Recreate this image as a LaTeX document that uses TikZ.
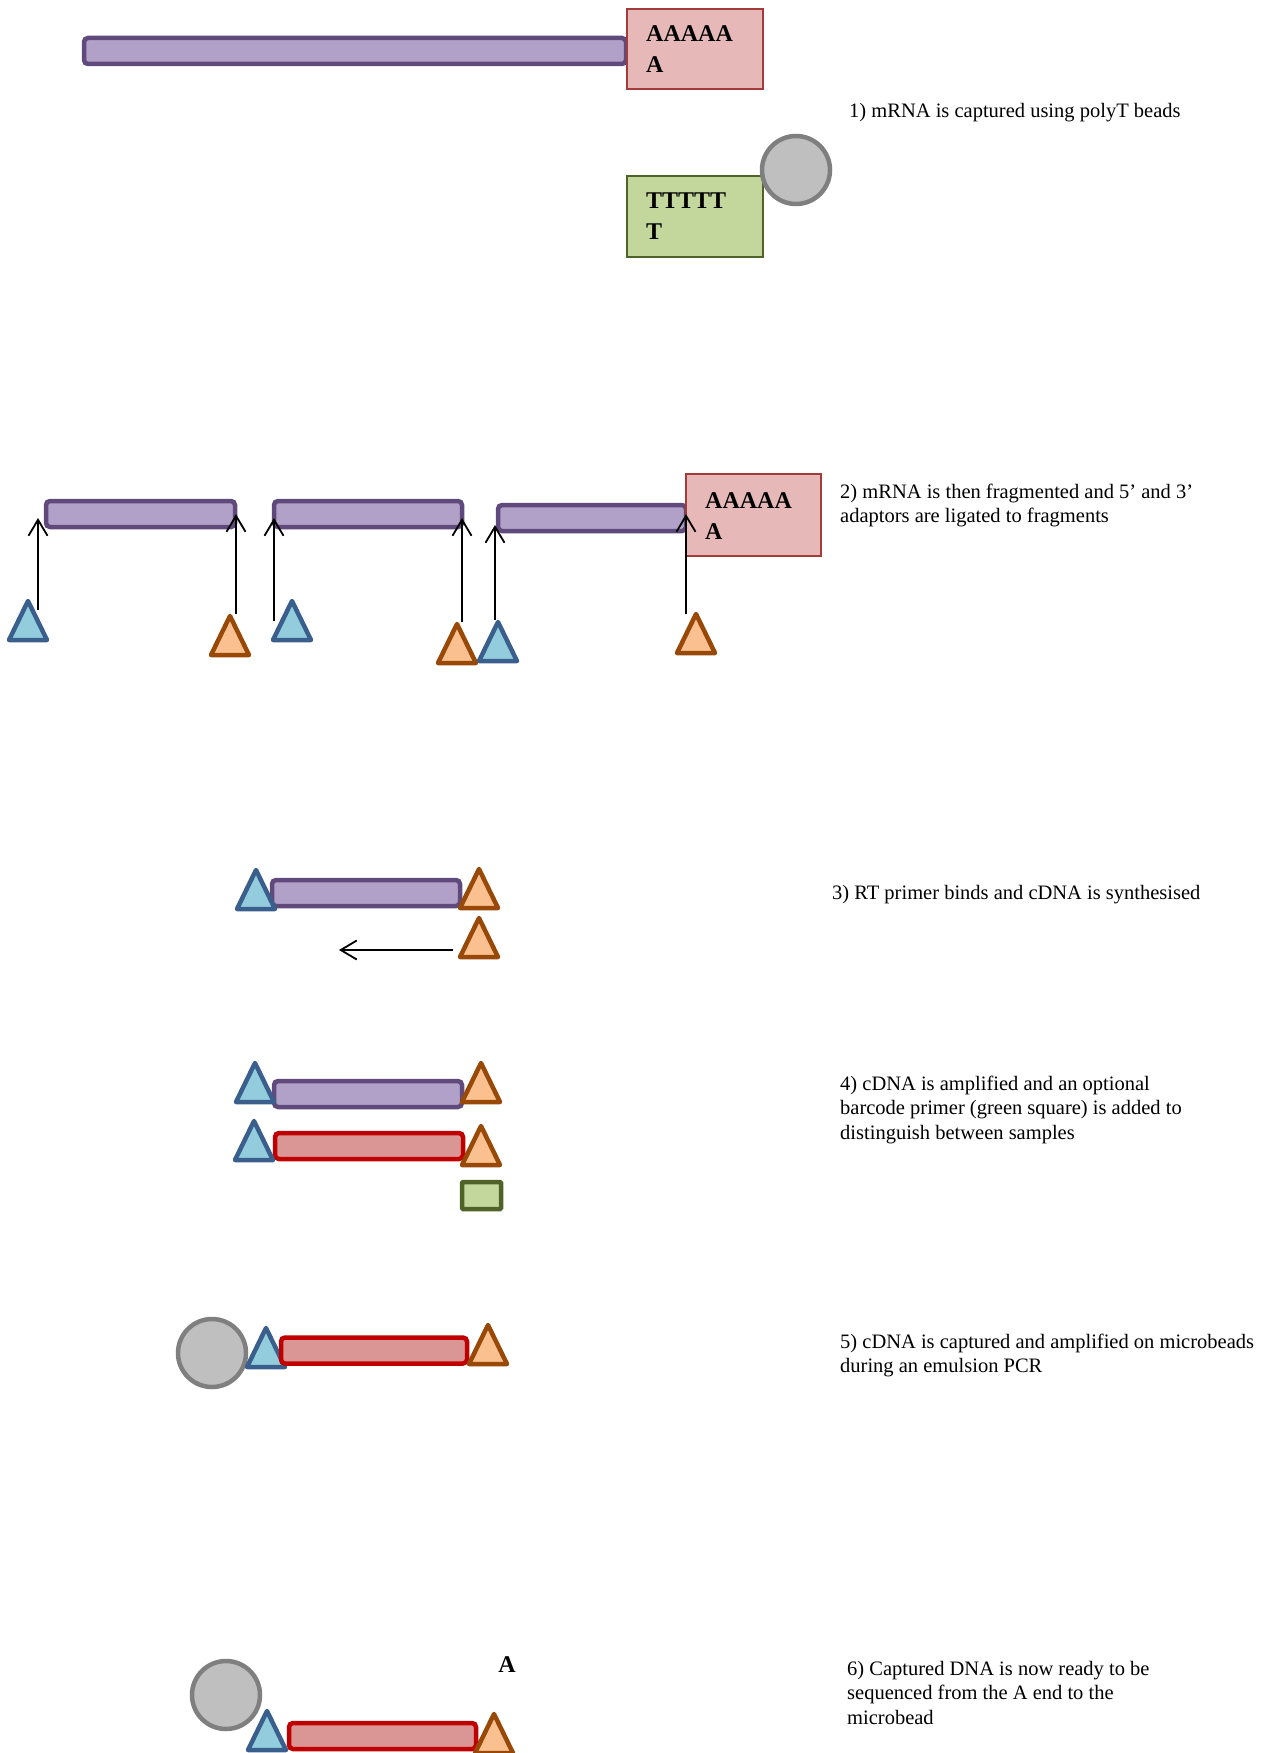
\documentclass[tikz,border=0pt]{standalone}
\usepackage{fontspec}
\setmainfont{Liberation Serif}
\usetikzlibrary{arrows.meta}
\definecolor{purplefill}{HTML}{B1A0C7}
\definecolor{purpleline}{HTML}{604A7B}
\definecolor{pinkfill}{HTML}{E6B9B8}
\definecolor{pinkline}{HTML}{A33B3B}
\definecolor{greenfill}{HTML}{C3D69B}
\definecolor{greenline}{HTML}{4F6228}
\definecolor{bluefill}{HTML}{93CDDD}
\definecolor{blueline}{HTML}{3A5F8C}
\definecolor{orangefill}{HTML}{FAC090}
\definecolor{orangeline}{HTML}{984807}
\definecolor{redfill}{HTML}{D99694}
\definecolor{redline}{HTML}{C00000}
\definecolor{beadfill}{HTML}{BFBFBF}
\definecolor{beadline}{HTML}{7F7F7F}
\tikzset{
  tri/.pic={\path[pic actions] (-19,0) -- (19,0) -- (0,-39) -- cycle;},
  bluetri/.style={draw=blueline, fill=bluefill, line width=4.5pt, line join=round},
  orangetri/.style={draw=orangeline, fill=orangefill, line width=4.5pt, line join=round},
  strand/.style={rectangle, rounded corners=4pt, line width=4.5pt, minimum height=26pt, inner sep=0pt},
  mrna/.style={strand, draw=purpleline, fill=purplefill},
  cdna/.style={strand, draw=redline, fill=redfill},
  polyA/.style={rectangle, draw=pinkline, fill=pinkfill, line width=1.5pt, inner sep=0pt},
  polyT/.style={rectangle, draw=greenline, fill=greenfill, line width=1.5pt, inner sep=0pt},
  barcode/.style={rectangle, draw=greenline, fill=greenfill, line width=4.5pt, inner sep=0pt, rounded corners=1pt},
  bead/.style={circle, draw=beadline, fill=beadfill, line width=4.5pt, inner sep=0pt, minimum size=68pt},
  boxtext/.style={font=\fontsize{24}{31}\selectfont\bfseries, inner sep=0pt, align=left},
  desc/.style={font=\fontsize{20.5}{24.5}\selectfont, inner sep=0pt, align=left, anchor=base west},
  ligate/.style={line width=1.8pt, -{Straight Barb[length=16pt,width=19pt,line width=1.8pt]}},
}
\begin{document}
\begin{tikzpicture}[x=1pt,y=-1pt]
\useasboundingbox (0,0) rectangle (1275,1753);
% ---------- step 1
\node[mrna, minimum width=542pt] (m1) at (355,51) {};
\node[polyA, minimum width=136pt, minimum height=80pt] (pa1) at (695,49) {};
\node[boxtext, anchor=base west] (pa1t) at (646,72) {AAAAA\\A};
\node[polyT, minimum width=136pt, minimum height=81pt] (pt1) at (695,216.5) {};
\node[boxtext, anchor=base west] (pt1t) at (646,239) {TTTTT\\T};
\node[bead] (bead1) at (796,170) {};
\node[desc] (d1) at (849,117) {1) mRNA is captured using polyT beads};
% ---------- step 2
\node[mrna, minimum width=189pt] (f1) at (140.5,514) {};
\node[mrna, minimum width=188pt] (f2) at (368,514) {};
\node[mrna, minimum width=188pt] (f3) at (592,518) {};
\node[polyA, minimum width=135pt, minimum height=82pt] (pa2) at (753.5,515) {};
\node[boxtext, anchor=base west] (pa2t) at (705,539) {AAAAA\\A};
\node[desc] (d2) at (840,522.5) {2) mRNA is then fragmented and 5’ and 3’\\adaptors are ligated to fragments};
\pic[bluetri] (s2b1) at (28,640) {tri};
\pic[orangetri] (s2o1) at (230,655) {tri};
\pic[bluetri] (s2b2) at (292,640) {tri};
\pic[orangetri] (s2o2) at (457,663) {tri};
\pic[bluetri] (s2b3) at (498,661) {tri};
\pic[orangetri] (s2o3) at (696,653) {tri};
\coordinate (a1s) at (38,610);  \coordinate (a1e) at (38,518);
\coordinate (a2s) at (236,614); \coordinate (a2e) at (236,514);
\coordinate (a3s) at (274,621); \coordinate (a3e) at (274,518);
\coordinate (a4s) at (462,622); \coordinate (a4e) at (462,518);
\coordinate (a5s) at (495,620); \coordinate (a5e) at (495,525);
\coordinate (a6s) at (686,614); \coordinate (a6e) at (686,514);
\foreach \i in {1,...,6} {\draw[ligate] (a\i s) -- (a\i e);}
% ---------- step 3
\node[mrna, minimum width=188pt] (m3) at (366,893) {};
\pic[bluetri] (s3b) at (256,909) {tri};
\pic[orangetri] (s3o) at (479,908) {tri};
\pic[orangetri] (s3p) at (479,957) {tri};
\coordinate (rts) at (453,950);
\coordinate (rte) at (339,950);
\draw[ligate] (rts) -- (rte);
\node[desc] (d3) at (832,899) {3) RT primer binds and cDNA is synthesised};
% ---------- step 4
\node[mrna, minimum width=188pt] (m4) at (368,1094) {};
\pic[bluetri] (s4b1) at (255,1102) {tri};
\pic[orangetri] (s4o1) at (481,1102) {tri};
\node[cdna, minimum width=188pt] (c4) at (369,1146) {};
\pic[bluetri] (s4b2) at (254,1160) {tri};
\pic[orangetri] (s4o2) at (481,1165) {tri};
\node[barcode, minimum width=39pt, minimum height=27pt] (bc) at (481.5,1195.5) {};
\node[desc] (d4) at (840,1139) {4) cDNA is amplified and an optional\\barcode primer (green square) is added to\\distinguish between samples};
% ---------- step 5
\node[bead] (bead5) at (212,1353) {};
\pic[bluetri] (s5b) at (266,1367) {tri};
\node[cdna, minimum width=186pt] (c5) at (374,1350.5) {};
\pic[orangetri] (s5o) at (488,1364) {tri};
\node[desc] (d5) at (840,1372.5) {5) cDNA is captured and amplified on microbeads\\during an emulsion PCR};
% ---------- step 6
\node[bead] (bead6) at (226,1695) {};
\pic[bluetri] (s6b) at (267,1750) {tri};
\node[cdna, minimum width=187pt] (c6) at (382.5,1736) {};
\pic[orangetri] (s6o) at (494,1753) {tri};
\node[boxtext, anchor=base] (aend) at (507,1672) {A};
\node[desc] (d6) at (847,1724) {6) Captured DNA is now ready to be\\sequenced from the A end to the\\microbead};
\end{tikzpicture}
\end{document}
